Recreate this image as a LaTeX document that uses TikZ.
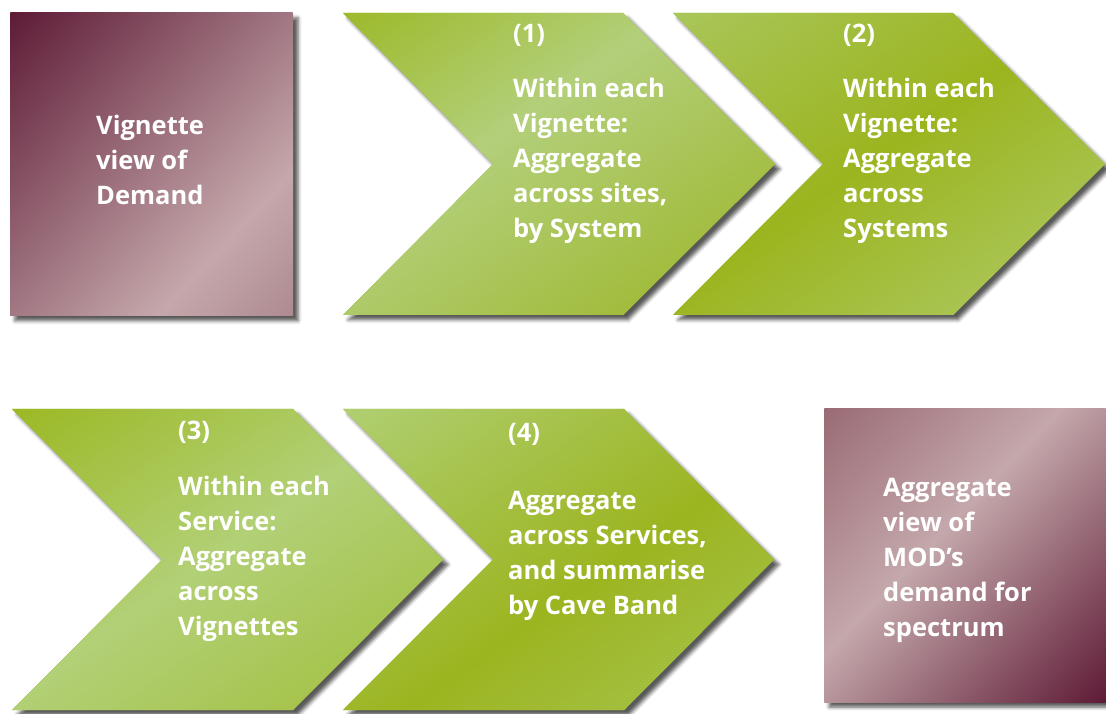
\documentclass[tikz,border=0pt]{standalone}
\usepackage{fontspec}
\setmainfont{Open Sans}
\usetikzlibrary{shadows.blur}
\definecolor{pA0}{HTML}{5E1B36}
\definecolor{pA1}{HTML}{C5A8AB}
\definecolor{pA2}{HTML}{AD8A90}
\definecolor{pB0}{HTML}{9A6B74}
\definecolor{pB1}{HTML}{C4A8AB}
\definecolor{pB2}{HTML}{5E1A35}
\definecolor{g1a}{HTML}{9CBA2A}
\definecolor{g1b}{HTML}{B3CF7A}
\definecolor{g1c}{HTML}{9AB523}
\definecolor{g2a}{HTML}{A9C65A}
\definecolor{g2b}{HTML}{9BB51F}
\definecolor{g2c}{HTML}{AFCC6A}
\definecolor{g3a}{HTML}{9BB924}
\definecolor{g3b}{HTML}{B2D076}
\definecolor{g3c}{HTML}{A0BE38}
\definecolor{g4a}{HTML}{B0CF72}
\definecolor{g4b}{HTML}{9BB520}
\definecolor{g4c}{HTML}{A8C552}
\definecolor{gBase}{HTML}{A6C34A}
\definecolor{pBase}{HTML}{9A6E77}
% stops: diagonal fraction t (top-left corner = 0, bottom-right corner = 1) is at 25bp + 50t bp
\pgfdeclarehorizontalshading{purA}{100bp}{color(0bp)=(pA0); color(25bp)=(pA0); color(63bp)=(pA1); color(75bp)=(pA2); color(100bp)=(pA2)}
\pgfdeclarehorizontalshading{purB}{100bp}{color(0bp)=(pB0); color(25bp)=(pB0); color(46bp)=(pB1); color(75bp)=(pB2); color(100bp)=(pB2)}
\pgfdeclarehorizontalshading{grA}{100bp}{color(0bp)=(g1a); color(25bp)=(g1a); color(44bp)=(g1b); color(75bp)=(g1c); color(100bp)=(g1c)}
\pgfdeclarehorizontalshading{grB}{100bp}{color(0bp)=(g2a); color(25bp)=(g2a); color(48.5bp)=(g2b); color(75bp)=(g2c); color(100bp)=(g2c)}
\pgfdeclarehorizontalshading{grC}{100bp}{color(0bp)=(g3a); color(25bp)=(g3a); color(49bp)=(g3b); color(75bp)=(g3c); color(100bp)=(g3c)}
\pgfdeclarehorizontalshading{grD}{100bp}{color(0bp)=(g4a); color(25bp)=(g4a); color(53.5bp)=(g4b); color(75bp)=(g4c); color(100bp)=(g4c)}
\tikzset{
  shadowed/.style={blur shadow={shadow xshift=5pt,shadow yshift=-5pt,shadow blur radius=3.5pt,shadow opacity=65}},
  lbl/.style={text=white,font=\bfseries\fontsize{25.5}{35}\selectfont,align=left,anchor=base west,inner sep=0pt}
}
% #1 path, #2 shading, #3,#4 centre of bounding box, #5,#6 half width/height, #7 base colour
\newcommand\diagshade[7]{%
  \fill[shadowed,#7] #1;
  \begin{scope}
    \clip #1;
    \begin{scope}[transform canvas={shift={(#3,#4)},xscale=#5,yscale=#6,rotate=-45}]
      \shade[shading=#2] (-1.4143,-1.4143) rectangle (1.4143,1.4143);
    \end{scope}
  \end{scope}
}
\begin{document}
\begin{tikzpicture}[x=1pt,y=1pt]
\useasboundingbox (0,0) rectangle (1106,713);
% boxes
\diagshade{(10,397) rectangle (293,700)}{purA}{151.5}{548.5}{141.5}{151.5}{pBase}
\diagshade{(824,11) rectangle (1106,304)}{purB}{965}{157.5}{141}{146.5}{pBase}
% chevrons top row
\diagshade{(343,700) -- (623,700) -- (775,549) -- (623,398) -- (343,398) -- (493,549) -- cycle}{grA}{559}{549}{216}{151}{gBase}
\diagshade{(673,700) -- (953,700) -- (1105,549) -- (953,398) -- (673,398) -- (823,549) -- cycle}{grB}{889}{549}{216}{151}{gBase}
% chevrons bottom row
\diagshade{(12,304) -- (293,304) -- (443,153.5) -- (293,3) -- (12,3) -- (162,153.5) -- cycle}{grC}{227.5}{153.5}{215.5}{150.5}{gBase}
\diagshade{(343,304) -- (624,304) -- (774,153.5) -- (624,3) -- (343,3) -- (493,153.5) -- cycle}{grD}{558.5}{153.5}{215.5}{150.5}{gBase}
% texts (anchored at the baseline of the last line)
\node[lbl] (tA) at (96,508) {Vignette\\view of\\Demand};
\node[lbl] (n1) at (513,670) {(1)};
\node[lbl] (t1) at (513,475) {Within each\\Vignette:\\Aggregate\\across sites,\\by System};
\node[lbl] (n2) at (843,670) {(2)};
\node[lbl] (t2) at (843,475) {Within each\\Vignette:\\Aggregate\\across\\Systems};
\node[lbl] (n3) at (178,273) {(3)};
\node[lbl] (t3) at (178,78) {Within each\\Service:\\Aggregate\\across\\Vignettes};
\node[lbl] (n4) at (508,271) {(4)};
\node[lbl] (t4) at (508,99) {Aggregate\\across Services,\\and summarise\\by Cave Band};
\node[lbl] (tB) at (883,77) {Aggregate\\view of\\MOD’s\\demand for\\spectrum};
\end{tikzpicture}
\end{document}
